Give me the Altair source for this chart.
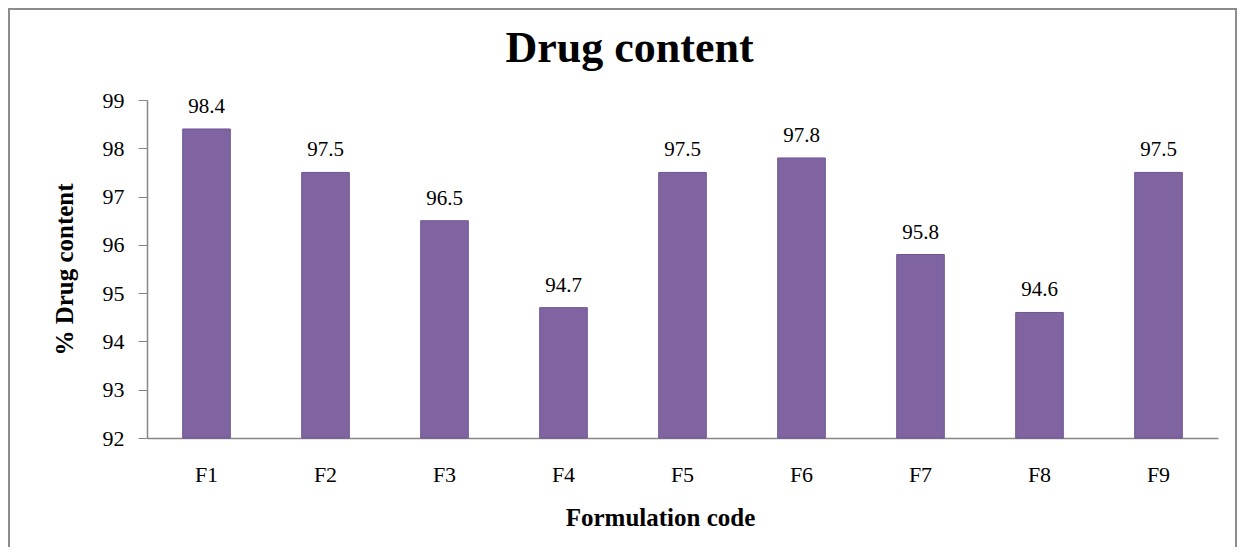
import altair as alt
import pandas as pd

categories = ["F1", "F2", "F3", "F4", "F5", "F6", "F7", "F8", "F9"]
values = [98.4, 97.5, 96.5, 94.7, 97.5, 97.8, 95.8, 94.6, 97.5]
y_ticks = [92, 93, 94, 95, 96, 97, 98, 99]
y_min, y_max = 92, 99

df = pd.DataFrame({"code": categories, "content": values})

FONT = "Liberation Serif"
AXIS_COLOR = "#868686"
BAR_COLOR = "#8064A2"

x_enc = alt.X(
    "code:N",
    sort=categories,
    scale=alt.Scale(paddingInner=0.6, paddingOuter=0.3),
    axis=alt.Axis(
        title="Formulation code",
        labelAngle=0,
        ticks=False,
        labelPadding=26,
        labelFontSize=22,
        labelFont=FONT,
        labelColor="#000000",
        labelBaseline="top",
        titleFont=FONT,
        titleFontSize=25,
        titleFontWeight="bold",
        titleColor="#000000",
        titlePadding=20,
        titleX=513,
        domainColor=AXIS_COLOR,
        domainWidth=1.5,
        grid=False,
    ),
)

y_enc = alt.Y(
    "content:Q",
    scale=alt.Scale(domain=[y_min, y_max], zero=False, nice=False),
    axis=alt.Axis(
        title="% Drug content",
        values=y_ticks,
        tickSize=9,
        tickColor=AXIS_COLOR,
        domainColor=AXIS_COLOR,
        domainWidth=1.5,
        labelPadding=14,
        labelFontSize=22,
        labelFont=FONT,
        labelColor="#000000",
        titleFont=FONT,
        titleFontSize=25,
        titleFontWeight="bold",
        titleColor="#000000",
        titlePadding=25,
        grid=False,
    ),
)

bars = alt.Chart(df).mark_bar(
    color=BAR_COLOR, stroke="#6F5590", strokeWidth=1
).encode(x=x_enc, y=y_enc, y2=alt.datum(y_min))

labels = alt.Chart(df).mark_text(
    font=FONT, fontSize=21, baseline="alphabetic", dy=-16, color="#000000"
).encode(
    x=x_enc,
    y=y_enc,
    text=alt.Text("content:Q", format=".1f"),
)

frame = alt.Chart(df).mark_rect(
    fill=None, stroke="#8c8c8c", strokeWidth=2
).encode(
    x=alt.value(-138), x2=alt.value(1089),
    y=alt.value(-91), y2=alt.value(470),
)

chart = alt.layer(bars, labels, frame).properties(
    width=1071,
    height=338,
    title=alt.TitleParams(
        "Drug content",
        font=FONT,
        fontSize=44,
        fontWeight="bold",
        color="#000000",
        anchor="middle",
        dx=-53,
        dy=91,
        offset=28,
    ),
    autosize=alt.AutoSizeParams(type="none"),
    padding={"left": 139, "top": 92, "right": 20, "bottom": 109},
).configure(background="#ffffff").configure_view(stroke=None)

chart.save("out.html", embed_options={"renderer": "svg", "actions": False})
